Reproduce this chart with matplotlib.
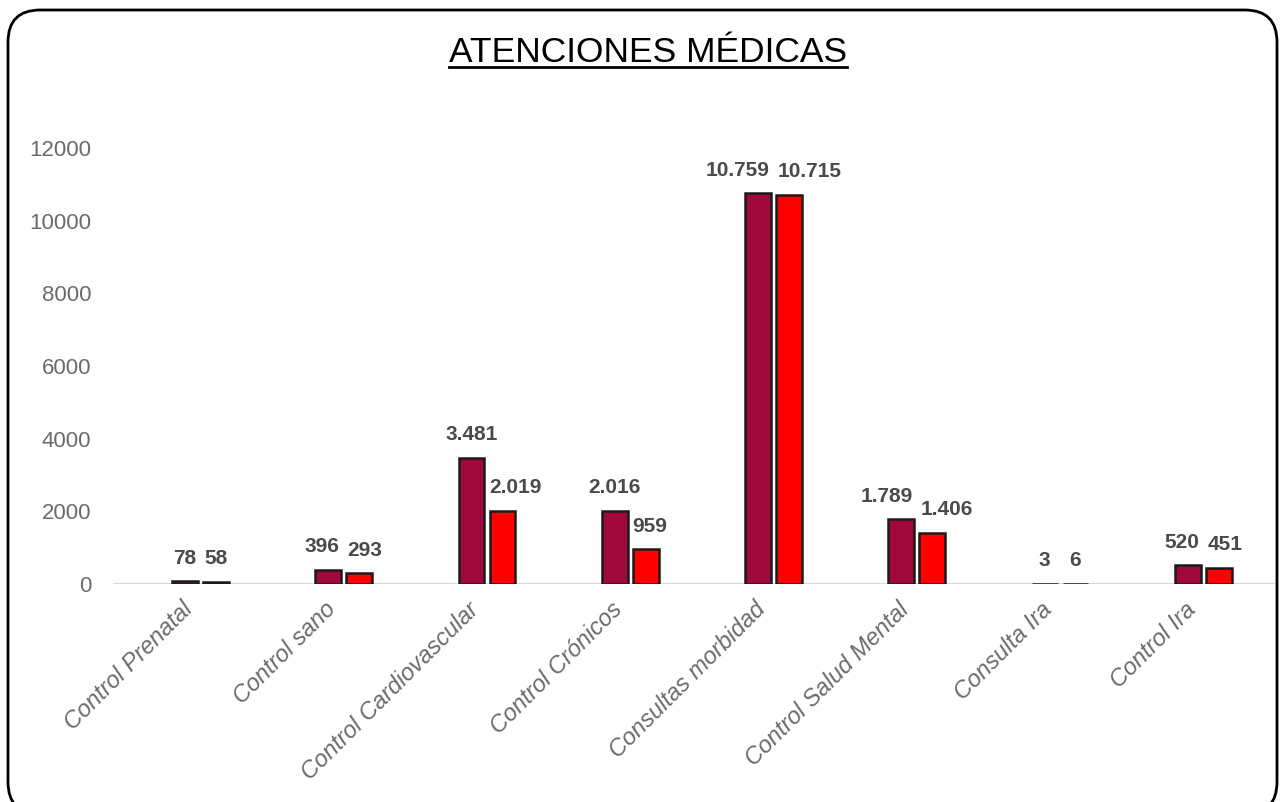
import matplotlib
matplotlib.use("Agg")
import matplotlib.pyplot as plt
import matplotlib.transforms as mtransforms
from matplotlib.patches import FancyBboxPatch
from matplotlib.lines import Line2D
import numpy as np

categorias = ["Control Prenatal", "Control sano", "Control Cardiovascular",
              "Control Crónicos", "Consultas morbidad", "Control Salud Mental",
              "Consulta Ira", "Control Ira"]
serie_a = [78, 396, 3481, 2016, 10759, 1789, 3, 520]
serie_b = [58, 293, 2019, 959, 10715, 1406, 6, 451]
yticks = [0, 2000, 4000, 6000, 8000, 10000, 12000]

plt.rcParams['font.family'] = ['Liberation Sans', 'DejaVu Sans']

W, H = 1285, 802
fig = plt.figure(figsize=(W / 100, H / 100), dpi=100)

# marco redondeado
frame = FancyBboxPatch((8 / W, -12 / H), (1277 - 8) / W, (H - 10 + 12) / H,
                       boxstyle="round,pad=0,rounding_size=0.025",
                       transform=fig.transFigure, fill=False,
                       edgecolor="black", linewidth=2, mutation_aspect=W / H)
fig.patches.append(frame)

ax = fig.add_axes([113 / W, (H - 584) / H, (1275 - 113) / W, (584 - 148) / H])

x = np.arange(len(categorias))
w = 0.18
off = 0.108
barras_a = ax.bar(x - off, serie_a, w, color="#A0083C", edgecolor="#1a1a1a", linewidth=1.8, zorder=3)
barras_b = ax.bar(x + off, serie_b, w, color="#FF0000", edgecolor="#1a1a1a", linewidth=1.8, zorder=3)

def fmt(v):
    return f"{v:,}".replace(",", ".")

pares = []
for xi, a, b in zip(x, serie_a, serie_b):
    par = []
    for xx, v in ((xi - off, a), (xi + off, b)):
        par.append(ax.annotate(fmt(v), (xx, v), xytext=(0, 16.5), textcoords="offset points",
                               ha="center", va="center", fontsize=15, fontweight="bold",
                               color="#4a4a4a", clip_on=False))
    pares.append(par)

ax.set_xlim(-0.61, 7.5)
ax.set_ylim(0, 12000)
ax.set_yticks(yticks)
ax.set_yticklabels([str(t) for t in yticks], fontsize=16, color="#6b6b6b")
ax.tick_params(axis="y", length=0, pad=15.8)
ax.set_xticks(x)
ax.set_xticklabels(categorias, rotation=45, ha="right", rotation_mode="anchor",
                   fontsize=17, style="italic", color="#6b6b6b")
ax.tick_params(axis="x", length=0, pad=6)
shift = mtransforms.ScaledTranslation(-14 / 72, -4 / 72, fig.dpi_scale_trans)
for lbl in ax.get_xticklabels():
    lbl.set_transform(lbl.get_transform() + shift)
for s in ax.spines.values():
    s.set_visible(False)
ax.axhline(0, color="#d9d9d9", linewidth=1.5, zorder=2)

t = fig.text(648 / W, 1 - 62 / H, "ATENCIONES MÉDICAS", ha="center", va="baseline",
             fontsize=25.5, color="black")
fig.canvas.draw()

# separar etiquetas que se superponen
r = fig.canvas.get_renderer()
for (a_lbl, b_lbl), barra in zip(pares, barras_a):
    ba = a_lbl.get_window_extent(r)
    bb_ = b_lbl.get_window_extent(r)
    solape = ba.x1 + 8 - bb_.x0
    if solape > 0 and ba.y0 < bb_.y1 and bb_.y0 < ba.y1:
        d = solape / 2 / fig.dpi * 72
        xa, ya = a_lbl.xyann
        xb, yb = b_lbl.xyann
        a_lbl.xyann = (xa - d, ya)
        b_lbl.xyann = (xb + d, yb)
        continue
    # etiqueta encima de la barra vecina
    bx = barra.get_window_extent(r)
    solape = bx.x1 + 5 - bb_.x0
    if solape > 0 and bb_.y0 < bx.y1:
        xb, yb = b_lbl.xyann
        b_lbl.xyann = (xb + solape / fig.dpi * 72, yb)

bb = t.get_window_extent(r)
yline = 1 - 67 / H
fig.add_artist(Line2D([bb.x0 / W, bb.x1 / W], [yline, yline], color="black",
                      linewidth=2, transform=fig.transFigure))

fig.savefig("out.png", dpi=100)
